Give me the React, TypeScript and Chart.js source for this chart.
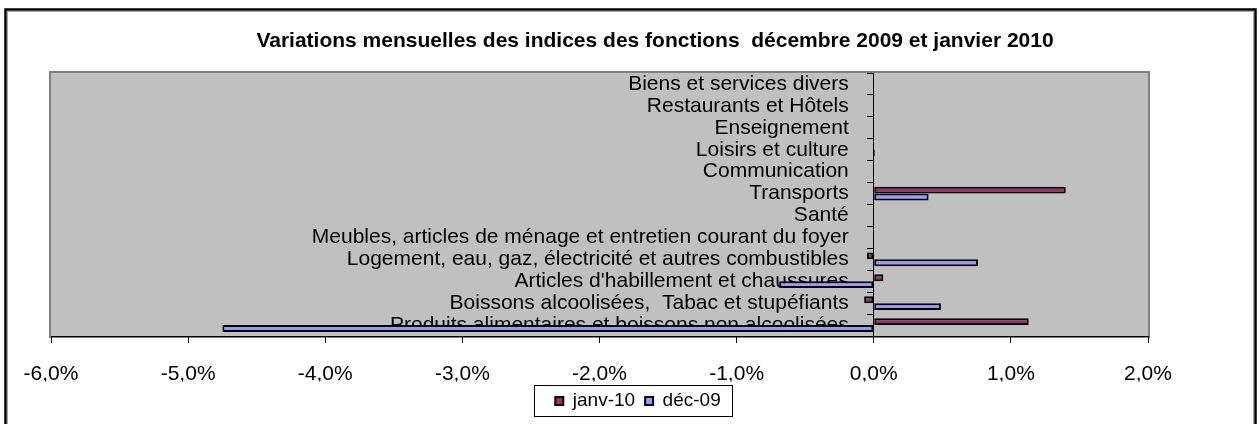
import React, { useEffect, useRef } from 'react';
import { Chart, registerables } from 'chart.js';

Chart.register(...registerables);

const TITLE = 'Variations mensuelles des indices des fonctions  décembre 2009 et janvier 2010';

const CATEGORIES = [
  'Produits alimentaires et boissons non alcoolisées',
  'Boissons alcoolisées,  Tabac et stupéfiants',
  "Articles d'habillement et chaussures",
  'Logement, eau, gaz, électricité et autres combustibles',
  'Meubles, articles de ménage et entretien courant du foyer',
  'Santé',
  'Transports',
  'Communication',
  'Loisirs et culture',
  'Enseignement',
  'Restaurants et Hôtels',
  'Biens et services divers',
];

const SERIES_NAMES = ['janv-10', 'déc-09'];
const JANV_10 = [1.13, -0.07, 0.07, -0.05, 0, 0, 1.4, 0, 0, 0, 0, 0];
const DEC_09 = [-4.75, 0.49, -0.69, 0.76, 0, 0, 0.4, 0, 0.01, 0, 0, 0];

const X_TICKS = [-6, -5, -4, -3, -2, -1, 0, 1, 2];

const FONT = '"Liberation Sans", Arial, sans-serif';
const COLORS = ['#993366', '#9999FF'];

const fmtPct = (v: number) => v.toFixed(1).replace('.', ',') + '%';

const framePlugin = {
  id: 'framePlugin',
  beforeDraw(chart: any) {
    const { ctx, chartArea: ca, width, height } = chart;
    ctx.save();
    ctx.fillStyle = '#ffffff';
    ctx.fillRect(0, 0, width, height);
    // outer frame
    ctx.strokeStyle = '#000000';
    ctx.lineWidth = 2.5;
    ctx.strokeRect(5.5, 9.5, 1250, 440);
    ctx.strokeStyle = '#a8a8a8';
    ctx.lineWidth = 1;
    ctx.strokeRect(7.5, 11.5, 1246, 440);
    // plot area
    ctx.fillStyle = '#C0C0C0';
    ctx.fillRect(ca.left, ca.top, ca.right - ca.left, ca.bottom - ca.top);
    ctx.strokeStyle = '#808080';
    ctx.lineWidth = 2;
    ctx.strokeRect(ca.left - 1, ca.top - 1, ca.right - ca.left + 2, ca.bottom - ca.top + 2);
    ctx.restore();
    // category labels sit left of the zero axis, past tick + padding
    const ys = chart.scales.y;
    if (ys) {
      const items = ys.getLabelItems(ca);
      items.forEach((it: any) => {
        if (!it.__shifted && it.options && it.options.translation) {
          it.options.translation[0] -= 25;
          it.__shifted = true;
        }
      });
    }
  },
  afterDraw(chart: any) {
    const { ctx } = chart;
    ctx.save();
    ctx.fillStyle = '#000000';
    ctx.font = 'bold 21px ' + FONT;
    ctx.textAlign = 'center';
    ctx.textBaseline = 'middle';
    ctx.fillText(TITLE, 655, 41);
    ctx.restore();
  },
};

const legendFrame = {
  id: 'legendFrame',
  afterUpdate(chart: any) {
    const lg = chart.legend;
    if (!lg || !lg.legendHitBoxes || !lg.legendHitBoxes.length) return;
    const hb = lg.legendHitBoxes;
    const l = Math.min(...hb.map((h: any) => h.left));
    const r = Math.max(...hb.map((h: any) => h.left + h.width));
    const dx = 638 - (l + r) / 2;
    lg.left += dx;
    lg.right += dx;
    hb.forEach((h: any) => { h.left += dx; });
  },
  afterDraw(chart: any) {
    const lg = chart.legend;
    if (!lg || !lg.legendHitBoxes || !lg.legendHitBoxes.length) return;
    const hb = lg.legendHitBoxes;
    const l = Math.min(...hb.map((h: any) => h.left));
    const r = Math.max(...hb.map((h: any) => h.left + h.width));
    const cy = hb[0].top + hb[0].height / 2;
    const { ctx } = chart;
    ctx.save();
    ctx.strokeStyle = '#000000';
    ctx.lineWidth = 1;
    ctx.strokeRect(Math.round(l - 21) + 0.5, Math.round(cy - 16) + 0.5, Math.round(r - l + 33), 31);
    ctx.restore();
  },
};

export default function App() {
  const ref = useRef<HTMLCanvasElement | null>(null);
  useEffect(() => {
    document.body.style.margin = '0';
    const canvas = ref.current;
    if (!canvas) return;
    const chart = new Chart(canvas, {
      type: 'bar',
      data: {
        labels: CATEGORIES,
        datasets: [
          {
            label: SERIES_NAMES[0],
            data: JANV_10,
            backgroundColor: COLORS[0],
            borderColor: '#000000',
            borderWidth: 2,
            borderSkipped: false,
            categoryPercentage: 0.63,
            barPercentage: 1,
          },
          {
            label: SERIES_NAMES[1],
            data: DEC_09,
            backgroundColor: COLORS[1],
            borderColor: '#000000',
            borderWidth: 2,
            borderSkipped: false,
            categoryPercentage: 0.63,
            barPercentage: 1,
          },
        ],
      },
      options: {
        indexAxis: 'y',
        responsive: false,
        animation: false,
        events: [],
        devicePixelRatio: 1,
        layout: { padding: { left: 51, right: 112, top: 73, bottom: 3.5 } },
        scales: {
          x: {
            type: 'linear',
            min: -6,
            max: 2,
            afterBuildTicks: (s: any) => {
              s.ticks = X_TICKS.map((v) => ({ value: v }));
            },
            afterFit: (s: any) => {
              s.height = 45.5;
            },
            grid: {
              drawOnChartArea: false,
              drawTicks: true,
              tickLength: 7,
              color: '#000000',
              lineWidth: 1,
            },
            border: { display: true, color: '#000000', width: 1 },
            ticks: {
              callback: (v: any) => fmtPct(Number(v)),
              font: { family: FONT, size: 21 },
              color: '#000000',
              padding: 19,
              maxRotation: 0,
              autoSkip: false,
            },
          },
          y: {
            type: 'category',
            reverse: true,
            position: { x: 0 } as any,
            z: 1,
            grid: {
              drawOnChartArea: false,
              drawTicks: true,
              tickLength: 6,
              color: '#000000',
              lineWidth: 1,
            },
            border: { display: true, color: '#000000', width: 1 },
            ticks: {
              font: { family: FONT, size: 21 },
              color: '#000000',
              padding: 19,
              autoSkip: false,
            },
          },
        },
        plugins: {
          title: { display: false },
          tooltip: { enabled: false },
          legend: {
            display: true,
            position: 'bottom',
            labels: {
              boxWidth: 8,
              boxHeight: 8,
              padding: 10,
              color: '#000000',
              font: { family: FONT, size: 19 },
            },
          },
        },
      },
      plugins: [framePlugin, legendFrame],
    } as any);
    return () => chart.destroy();
  }, []);
  return (
    <canvas
      ref={ref}
      width={1260}
      height={424}
      style={{ display: 'block', width: 1260, height: 424 }}
    />
  );
}
